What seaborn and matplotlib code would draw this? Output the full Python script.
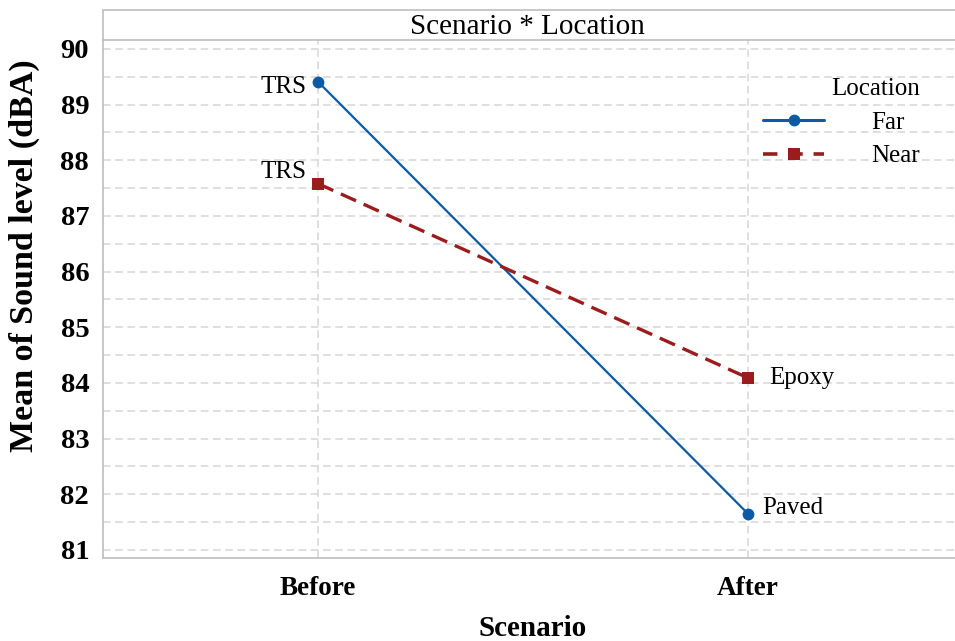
import pandas as pd
import matplotlib.pyplot as plt
import seaborn as sns
from matplotlib.ticker import MultipleLocator
from matplotlib.patches import Rectangle

# Values
scenarios = ['Before', 'After']
far_means = [89.41, 81.65]
near_means = [87.58, 84.09]
far_labels = ['TRS', 'Paved']
near_labels = ['TRS', 'Epoxy']

df = pd.DataFrame({
    'Scenario': scenarios * 2,
    'Mean': far_means + near_means,
    'Location': ['Far'] * 2 + ['Near'] * 2,
})

sns.set_style('white')
plt.rcParams['font.family'] = ['Liberation Serif', 'DejaVu Serif']
plt.rcParams['text.color'] = 'black'
plt.rcParams['axes.labelcolor'] = 'black'
plt.rcParams['xtick.color'] = 'black'
plt.rcParams['ytick.color'] = 'black'

blue = '#0c5aa6'
red = '#9b1c1c'

fig = plt.figure(figsize=(9.55, 6.41), dpi=100)
ax = fig.add_axes([0.1079, 0.1295, 0.9005, 0.8081])

sns.lineplot(data=df, x='Scenario', y='Mean', hue='Location', style='Location',
             palette={'Far': blue, 'Near': red},
             markers={'Far': 'o', 'Near': 's'},
             dashes={'Far': '', 'Near': (5, 2.5)},
             markeredgewidth=0, sort=False, ax=ax, legend=False)

ax.lines[0].set_linewidth(1.6)
ax.lines[0].set_markersize(8.5)
ax.lines[1].set_linewidth(2.4)
ax.lines[1].set_markersize(8)

ax.set_xlim(-0.5, 1.5)
ax.set_ylim(80.856, 90.16)
ax.yaxis.set_major_locator(MultipleLocator(1))
ax.yaxis.set_minor_locator(MultipleLocator(0.5))

grid_kw = dict(color='#d6d6d6', linestyle=(0, (5, 3)), linewidth=1.1)
ax.grid(axis='y', which='both', **grid_kw)
ax.grid(axis='x', which='major', **grid_kw)
ax.set_axisbelow(True)

for s in ['top', 'right']:
    ax.spines[s].set_visible(False)
for s in ['left', 'bottom']:
    ax.spines[s].set_color('#bdbdbd')
    ax.spines[s].set_linewidth(1.2)

ax.tick_params(axis='both', which='major', direction='out', length=5,
               color='#bdbdbd', width=1)
ax.tick_params(axis='y', which='minor', length=0)
ax.tick_params(axis='y', labelsize=20.5, pad=5)
ax.tick_params(axis='x', labelsize=19.5, pad=8)
for t in ax.get_xticklabels() + ax.get_yticklabels():
    t.set_fontweight('bold')

ax.set_xlabel('Scenario', fontsize=21, fontweight='bold')
ax.xaxis.set_label_coords(0.5, -0.136)
ax.xaxis.label.set_va('center')
ax.set_ylabel('Mean of Sound level (dBA)', fontsize=24.5, fontweight='bold')
ax.yaxis.set_label_coords(-0.092, 0.583)
ax.yaxis.label.set_va('center')

# point labels
ax.annotate(far_labels[0], (0, far_means[0]), xytext=(-8, -3.5), textcoords='offset points',
            ha='right', va='center', fontsize=18)
ax.annotate(near_labels[0], (0, near_means[0]), xytext=(-8, 8.5), textcoords='offset points',
            ha='right', va='center', fontsize=18)
ax.annotate(far_labels[1], (1, far_means[1]), xytext=(10, 4.3), textcoords='offset points',
            ha='left', va='center', fontsize=18)
ax.annotate(near_labels[1], (1, near_means[1]), xytext=(15, 0), textcoords='offset points',
            ha='left', va='center', fontsize=18)

# legend
handles = [
    plt.Line2D([], [], color=blue, marker='o', markersize=8.5, lw=2.2, markeredgewidth=0),
    plt.Line2D([], [], color=red, marker='s', markersize=8.5, lw=2.6, ls=(0, (4, 3)),
               markeredgewidth=0),
]
ax.legend(handles, ['Far', 'Near'], title='Location', loc='upper right',
          bbox_to_anchor=(0.974, 0.894), bbox_transform=fig.transFigure,
          borderaxespad=0, frameon=False, fontsize=18, title_fontsize=18,
          handlelength=2.44, handletextpad=1.9, labelspacing=0.45,
          alignment='right')

# title strip
fig.patches.append(Rectangle((0.1079, 0.9376), 0.9005, 0.0468, transform=fig.transFigure,
                             facecolor='white', edgecolor='#bdbdbd', linewidth=1.2))
fig.text(0.5525, 0.958, 'Scenario * Location', ha='center', va='center', fontsize=21)

fig.savefig('out.png', dpi=100)
